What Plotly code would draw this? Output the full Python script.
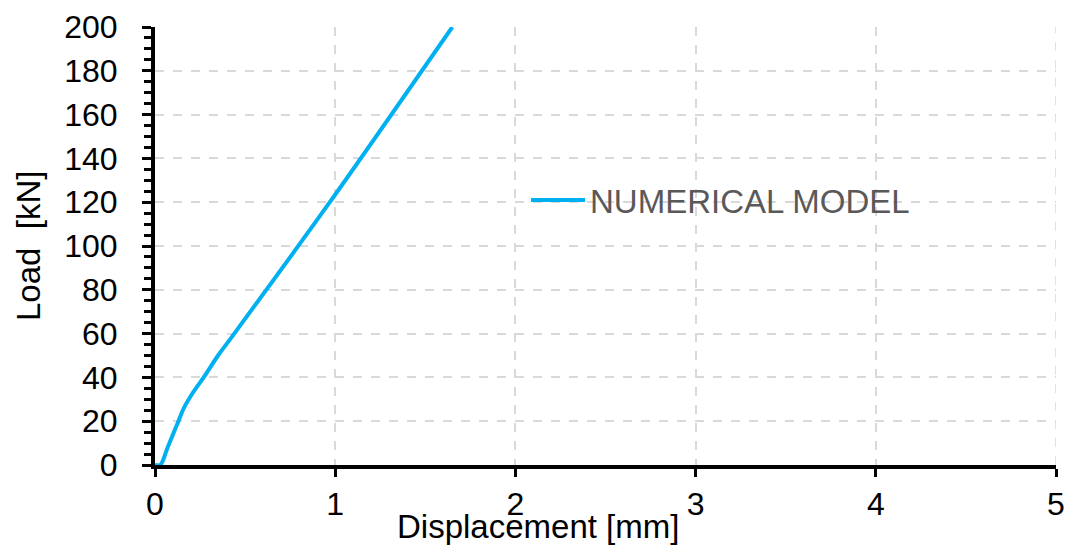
import plotly.graph_objects as go

displacement_mm = [0.0, 0.03, 0.07, 0.12, 0.16, 0.21, 0.27, 0.35, 0.44, 0.97, 1.65]
load_kN = [0.0, 0.0, 8, 18, 26, 33, 40, 50, 60, 120, 200]
series_name = "NUMERICAL MODEL"
x_ticks = [0, 1, 2, 3, 4, 5]
y_ticks = list(range(0, 201, 20))

FONT = "Liberation Sans, Arial, sans-serif"

fig = go.Figure()
fig.add_trace(go.Scatter(
    x=displacement_mm, y=load_kN, mode="lines", name=series_name,
    line=dict(color="#00B0F0", width=4, shape="spline", smoothing=0.8),
))

W, H = 1073, 549
L, T, R, B = 155, 27, 17, 84
pw, ph = W - L - R, H - T - B

fig.update_layout(
    width=W, height=H,
    margin=dict(l=L, r=R, t=T, b=B, autoexpand=False),
    paper_bgcolor="white", plot_bgcolor="white",
    font=dict(family=FONT, size=32, color="black"),
    showlegend=True,
    legend=dict(x=(526 - L) / pw, y=1 - (200 - T) / ph, xanchor="left", yanchor="middle",
                font=dict(family=FONT, size=33, color="#595959"),
                bgcolor="rgba(0,0,0,0)", itemwidth=54),
)
fig.update_xaxes(
    range=[0, 5], tickvals=x_ticks, ticks="outside", ticklen=8, tickwidth=3,
    tickcolor="black", showline=True, linecolor="black", linewidth=4,
    showgrid=True, gridcolor="#D9D9D9", griddash="dash", gridwidth=1.5,
    zeroline=False, tickfont=dict(family=FONT, size=32), automargin=False,
)
fig.update_yaxes(
    range=[0, 200], tickvals=y_ticks, ticks="outside", ticklen=9, tickwidth=3,
    tickcolor="black", showline=True, linecolor="black", linewidth=4,
    showgrid=True, gridcolor="#D9D9D9", griddash="dash", gridwidth=1.5,
    zeroline=False, tickfont=dict(family=FONT, size=32), automargin=False,
    ticklabelstandoff=18,
    minor=dict(dtick=5, ticks="outside", ticklen=7, tickwidth=3, tickcolor="black", showgrid=False),
)
# right border dashed gridline at x=5
fig.add_shape(type="line", xref="x", yref="y", x0=5, x1=5, y0=0, y1=200,
              line=dict(color="#D9D9D9", width=1.5, dash="dash"), layer="below")

fig.add_annotation(text="Displacement [mm]", xref="paper", yref="paper",
                   x=(538 - L) / pw, y=-(526.5 - (T + ph)) / ph, showarrow=False,
                   xanchor="center", yanchor="middle", font=dict(family=FONT, size=33))
fig.add_annotation(text="Load  [kN]", xref="paper", yref="paper",
                   x=(28 - L) / pw, y=1 - (246 - T) / ph, showarrow=False, textangle=-90,
                   xanchor="center", yanchor="middle", font=dict(family=FONT, size=33))

fig.write_html("out.html", config={"displayModeBar": False},
               post_script="document.body.style.margin='0';document.body.style.overflow='hidden';")
